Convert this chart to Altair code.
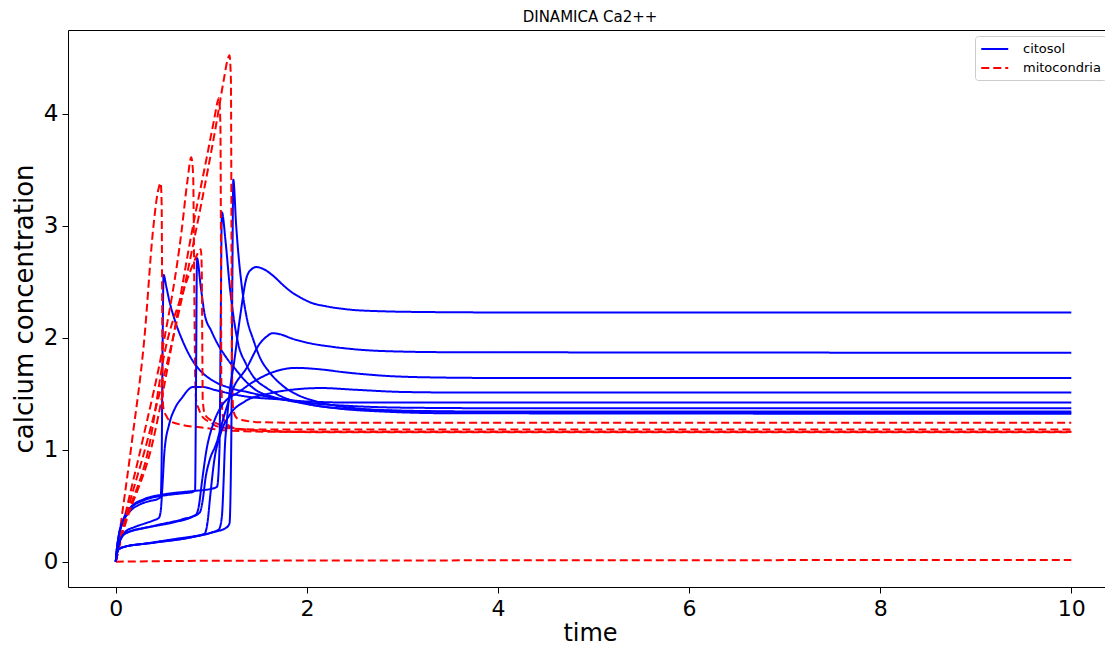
import altair as alt
import pandas as pd

# ---------------- data ----------------
# citosol curves (blue)
cit1_t = [0, 0.01, 0.03, 0.08, 0.15, 0.25, 0.35, 0.44, 0.47, 0.48, 0.49, 0.50, 0.53, 0.56, 0.62, 0.70, 0.80, 0.88, 1.05, 1.20, 1.40, 1.60, 1.82, 2.10, 2.45, 3.0, 4.0, 10.0]
cit1_v = [0, 0.10, 0.22, 0.36, 0.45, 0.51, 0.54, 0.56, 0.58, 0.9, 1.9, 2.56, 2.45, 2.33, 2.15, 1.97, 1.80, 1.71, 1.60, 1.55, 1.51, 1.47, 1.44, 1.41, 1.39, 1.375, 1.37, 1.37]

cit2_t = [0, 0.01, 0.03, 0.09, 0.2, 0.3, 0.4, 0.45, 0.47, 0.49, 0.51, 0.56, 0.62, 0.69, 0.81, 0.9, 1.05, 1.2, 1.4, 1.7, 2.0, 2.5, 3.0, 10]
cit2_v = [0, 0.07, 0.15, 0.26, 0.31, 0.34, 0.37, 0.39, 0.45, 0.7, 0.99, 1.23, 1.37, 1.46, 1.56, 1.56, 1.53, 1.5, 1.47, 1.45, 1.43, 1.42, 1.42, 1.42]

cit3_t = [0, 0.01, 0.03, 0.08, 0.15, 0.3, 0.5, 0.7, 0.8, 0.83, 0.84, 0.85, 0.89, 0.93, 1.0, 1.05, 1.15, 1.26, 1.36, 1.47, 1.65, 1.92, 2.2, 2.6, 3.2, 4.0, 10]
cit3_v = [0, 0.10, 0.22, 0.37, 0.47, 0.55, 0.59, 0.61, 0.62, 0.64, 1.6, 2.71, 2.45, 2.21, 2.06, 1.97, 1.83, 1.71, 1.61, 1.53, 1.47, 1.42, 1.38, 1.36, 1.345, 1.34, 1.34]

cit4_t = [0, 0.01, 0.03, 0.08, 0.15, 0.3, 0.5, 0.8, 1.0, 1.06, 1.085, 1.10, 1.11, 1.15, 1.19, 1.23, 1.28, 1.36, 1.45, 1.58, 1.72, 2.0, 2.3, 2.8, 3.5, 10]
cit4_v = [0, 0.10, 0.23, 0.38, 0.48, 0.56, 0.60, 0.63, 0.65, 0.67, 1.0, 2.3, 3.12, 2.85, 2.48, 2.20, 1.95, 1.77, 1.64, 1.55, 1.48, 1.41, 1.37, 1.34, 1.325, 1.32]

cit5_t = [0, 0.01, 0.03, 0.08, 0.3, 0.6, 0.9, 1.05, 1.15, 1.19, 1.21, 1.22, 1.23, 1.26, 1.28, 1.32, 1.37, 1.44, 1.51, 1.6, 1.72, 1.9, 2.1, 2.5, 3.0, 4.0, 10]
cit5_v = [0, 0.06, 0.11, 0.13, 0.16, 0.2, 0.24, 0.27, 0.30, 0.34, 1.2, 2.5, 3.41, 3.0, 2.78, 2.45, 2.18, 1.98, 1.82, 1.70, 1.59, 1.49, 1.43, 1.37, 1.345, 1.335, 1.33]

cit6_t = [0, 0.01, 0.03, 0.08, 0.4, 0.8, 1.0, 1.08, 1.11, 1.13, 1.14, 1.16, 1.19, 1.24, 1.30, 1.37, 1.42, 1.47, 1.55, 1.65, 1.75, 1.85, 1.95, 2.05, 2.2, 2.45, 2.8, 3.3, 4, 10]
cit6_v = [0, 0.06, 0.11, 0.13, 0.17, 0.22, 0.26, 0.29, 0.4, 0.75, 0.99, 1.23, 1.50, 1.79, 2.18, 2.54, 2.61, 2.63, 2.61, 2.55, 2.47, 2.40, 2.35, 2.31, 2.28, 2.25, 2.235, 2.228, 2.225, 2.225]

cit7_t = [0, 0.01, 0.03, 0.09, 0.3, 0.6, 0.8, 0.88, 0.91, 0.94, 0.98, 1.05, 1.14, 1.22, 1.37, 1.51, 1.58, 1.64, 1.72, 1.85, 2.03, 2.25, 2.45, 2.8, 3.5, 10]
cit7_v = [0, 0.07, 0.15, 0.25, 0.3, 0.35, 0.40, 0.44, 0.55, 0.75, 0.9, 1.05, 1.32, 1.53, 1.73, 1.95, 2.01, 2.04, 2.03, 1.99, 1.95, 1.92, 1.90, 1.88, 1.87, 1.865]

cit8_t = [0, 0.01, 0.03, 0.1, 0.4, 0.7, 0.84, 0.87, 0.9, 0.95, 1.02, 1.1, 1.18, 1.26, 1.43, 1.64, 1.89, 2.1, 2.4, 2.8, 3.3, 4, 10]
cit8_v = [0, 0.07, 0.15, 0.25, 0.32, 0.38, 0.42, 0.5, 0.7, 1.0, 1.23, 1.38, 1.46, 1.50, 1.60, 1.69, 1.73, 1.72, 1.69, 1.66, 1.645, 1.64, 1.64]

cit9_t = [0, 0.01, 0.03, 0.08, 0.4, 0.8, 0.93, 0.96, 0.99, 1.03, 1.1, 1.2, 1.35, 1.6, 1.9, 2.15, 2.5, 3.0, 3.6, 10]
cit9_v = [0, 0.06, 0.11, 0.13, 0.17, 0.22, 0.25, 0.35, 0.6, 0.9, 1.15, 1.32, 1.43, 1.50, 1.54, 1.55, 1.535, 1.515, 1.51, 1.51]

# mitocondria curves (red, dashed)
mit1_t = [0, 0.05, 0.17, 0.30, 0.39, 0.44, 0.47, 0.48, 0.485, 0.49, 0.50, 0.53, 0.56, 0.7, 0.88, 1.2, 1.6, 2.5, 10]
mit1_v = [0, 0.32, 1.08, 2.0, 2.96, 3.30, 3.38, 3.2, 2.4, 1.5, 1.36, 1.30, 1.26, 1.22, 1.20, 1.17, 1.16, 1.155, 1.155]

mit2_t = [0, 0.05, 0.28, 0.5, 0.69, 0.75, 0.79, 0.81, 0.82, 0.83, 0.84, 0.87, 0.91, 1.0, 1.05, 1.2, 1.5, 2.0, 10]
mit2_v = [0, 0.22, 1.08, 1.95, 2.96, 3.40, 3.61, 3.45, 2.6, 1.7, 1.45, 1.36, 1.29, 1.24, 1.21, 1.19, 1.18, 1.18, 1.18]

mit3_t = [0, 0.05, 0.36, 0.51, 0.7, 0.82, 0.87, 0.89, 0.90, 0.905, 0.91, 0.93, 1.0, 1.2, 1.5, 2.0, 10]
mit3_v = [0, 0.2, 1.08, 1.86, 2.4, 2.68, 2.77, 2.79, 2.6, 2.0, 1.45, 1.32, 1.26, 1.2, 1.17, 1.16, 1.16]

mit4_t = [0, 0.05, 0.39, 0.6, 0.8, 0.95, 1.03, 1.07, 1.08, 1.095, 1.10, 1.105, 1.12, 1.15, 1.25, 1.5, 2.0, 10]
mit4_v = [0, 0.18, 1.08, 2.0, 2.96, 3.6, 3.95, 4.12, 4.14, 3.9, 3.0, 1.6, 1.30, 1.24, 1.19, 1.17, 1.16, 1.16]

mit5_t = [0, 0.05, 0.33, 0.6, 0.88, 1.05, 1.13, 1.17, 1.19, 1.205, 1.21, 1.215, 1.23, 1.27, 1.35, 1.5, 2.0, 10]
mit5_v = [0, 0.2, 1.08, 2.0, 3.13, 3.9, 4.3, 4.48, 4.52, 4.3, 3.2, 1.8, 1.35, 1.28, 1.26, 1.245, 1.24, 1.24]

mit6_t = [0, 0.5, 1, 2, 4, 10]
mit6_v = [0, 0.005, 0.008, 0.01, 0.012, 0.015]

series_names = ["citosol", "mitocondria"]
x_ticks = [0, 2, 4, 6, 8, 10]
y_ticks = [0, 1, 2, 3, 4]

curves = [
    ("c1", "citosol", cit1_t, cit1_v), ("m1", "mitocondria", mit1_t, mit1_v),
    ("c2", "citosol", cit2_t, cit2_v), ("m2", "mitocondria", mit2_t, mit2_v),
    ("c3", "citosol", cit3_t, cit3_v), ("m3", "mitocondria", mit3_t, mit3_v),
    ("c4", "citosol", cit4_t, cit4_v), ("m4", "mitocondria", mit4_t, mit4_v),
    ("c5", "citosol", cit5_t, cit5_v), ("m5", "mitocondria", mit5_t, mit5_v),
    ("c6", "citosol", cit6_t, cit6_v), ("m6", "mitocondria", mit6_t, mit6_v),
    ("c7", "citosol", cit7_t, cit7_v),
    ("c8", "citosol", cit8_t, cit8_v),
    ("c9", "citosol", cit9_t, cit9_v),
]

rows = []
for key, ser, ts, vs in curves:
    for i, (t, v) in enumerate(zip(ts, vs)):
        rows.append({"key": key, "series": ser, "t": t, "v": v, "i": i})
df = pd.DataFrame(rows)

FONT = "DejaVu Sans"

x_scale = alt.Scale(domain=[-0.5, 10.426], nice=False, zero=False)
y_scale = alt.Scale(domain=[-0.226, 4.746], nice=False, zero=False)
y_enc = alt.Y("v:Q", scale=y_scale,
              axis=alt.Axis(values=y_ticks, title="calcium concentration", titlePadding=6,
                            titleFontSize=26, labelFontSize=23))

lines = (
    alt.Chart(df)
    .mark_line(strokeWidth=2, interpolate="monotone")
    .encode(
        x=alt.X("t:Q", scale=x_scale,
                axis=alt.Axis(values=x_ticks, title="time", titlePadding=2, labelPadding=5)),
        y=y_enc,
        color=alt.Color("series:N",
                        scale=alt.Scale(domain=series_names, range=["#0000ff", "#ff0000"]),
                        legend=alt.Legend(title=None)),
        strokeDash=alt.StrokeDash("series:N",
                                  scale=alt.Scale(domain=series_names, range=[[1, 0], [8, 4]]),
                                  legend=alt.Legend(title=None)),
        detail="key:N",
        order=alt.Order("i:Q"),
    )
)

# invisible layer that only carries the top frame line (top axis domain)
top_frame = (
    alt.Chart(df)
    .mark_line(opacity=0)
    .encode(
        x=alt.X("t:Q", scale=x_scale,
                axis=alt.Axis(orient="top", labels=False, ticks=False, title="", domain=True,
                              labelPadding=0, titlePadding=0)),
        y=y_enc,
        detail="key:N",
    )
)

chart = (
    alt.layer(lines, top_frame)
    .resolve_axis(x="independent")
    .properties(
        width=1044,
        height=557,
        title=alt.TitleParams("DINAMICA Ca2++", fontSize=15, font=FONT, fontWeight="normal",
                              offset=5, anchor="middle", color="black"),
        autosize=alt.AutoSizeParams(type="none"),
        padding={"left": 60, "top": 22, "right": -7, "bottom": 58},
    )
    .configure_axis(
        grid=False, domainColor="black", tickColor="black", labelColor="black",
        titleColor="black", labelFont=FONT, titleFont=FONT, labelFontSize=22,
        titleFontSize=24, titleFontWeight="normal", tickSize=6, labelPadding=4,
    )
    .configure_legend(
        orient="top-right", offset=6, fillColor="white", strokeColor="#cccccc",
        cornerRadius=3, padding=5, symbolType="M-1,0L3,0", symbolSize=182,
        symbolStrokeWidth=2, labelFontSize=13, labelFont=FONT, labelColor="black",
        rowPadding=4, labelOffset=27,
    )
    .configure_view(stroke="transparent")
)

chart.save("out.html", embed_options={"renderer": "svg", "actions": False})
